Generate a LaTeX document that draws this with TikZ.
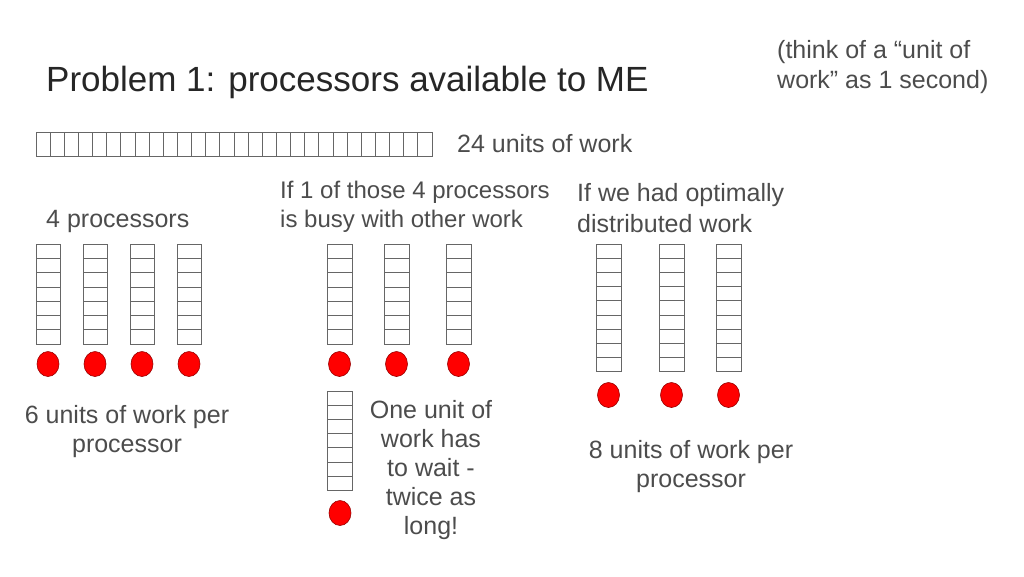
\documentclass[tikz,border=0pt]{standalone}
\usepackage{fontspec}
\setmainfont{Liberation Sans}
\usetikzlibrary{shapes.geometric}
\begin{document}
\begin{tikzpicture}[x=1pt,y=-1pt,
  cell/.style={draw=gray!80!black,line width=0.8pt},
  proc/.style={ellipse,draw=red!60!black,fill=red,minimum width=22pt,minimum height=25pt,inner sep=0pt,line width=0.6pt},
  lbl/.style={text=black!70,font=\fontsize{25}{29}\selectfont,align=center,inner sep=0pt},
  ]
\useasboundingbox (0,0) rectangle (1024,576);
\node[anchor=west,text=black!85,font=\fontsize{35}{40}\selectfont,inner sep=0pt] (title) at (46,82) {Problem 1: processors available to ME};
\node[anchor=north west,lbl,align=left,font=\fontsize{25}{30}\selectfont] (note) at (777,40) {(think of a “unit of\\work” as 1 second)};
% bar of 28 units
\foreach \i in {0,...,27} \draw[cell] (36+\i*14.14,132) rectangle ++(14.14,24);
\node[anchor=west,lbl] (units) at (457,144) {24 units of work};
% group 1
\node[anchor=west,lbl] (g1) at (46,221) {4 processors};
\foreach \x [count=\k] in {36,83,130,177}{
  \foreach \j in {0,...,6} \draw[cell] (\x,244+\j*14.3) rectangle ++(24,14.3);
  \node[proc] (p1\k) at (\x+12,364) {};
}
\node[lbl] (t1) at (127,432) {6 units of work per\\processor};
% group 2
\node[anchor=west,lbl,align=left,font=\fontsize{24}{29}\selectfont] (g2) at (280,207) {If 1 of those 4 processors\\is busy with other work};
\foreach \x [count=\k] in {327,384,446}{
  \foreach \j in {0,...,6} \draw[cell] (\x,244+\j*14.3) rectangle ++(25,14.3);
  \node[proc] (p2\k) at (\x+12.5,364) {};
}
\foreach \j in {0,...,6} \draw[cell] (327,391+\j*14.2) rectangle ++(25,14.2);
\node[proc] (p24) at (340,513) {};
\node[lbl] (t2) at (431,470) {One unit of\\work has\\to wait -\\twice as\\long!};
% group 3
\node[anchor=west,lbl,align=left,font=\fontsize{25}{31}\selectfont] (g3) at (577,208) {If we had optimally\\distributed work};
\foreach \x [count=\k] in {596,659,716}{
  \foreach \j in {0,...,8} \draw[cell] (\x,244+\j*14.2) rectangle ++(25,14.2);
  \node[proc] (p3\k) at (\x+12.5,395) {};
}
\node[lbl] (t3) at (691,467) {8 units of work per\\processor};
\end{tikzpicture}
\end{document}
